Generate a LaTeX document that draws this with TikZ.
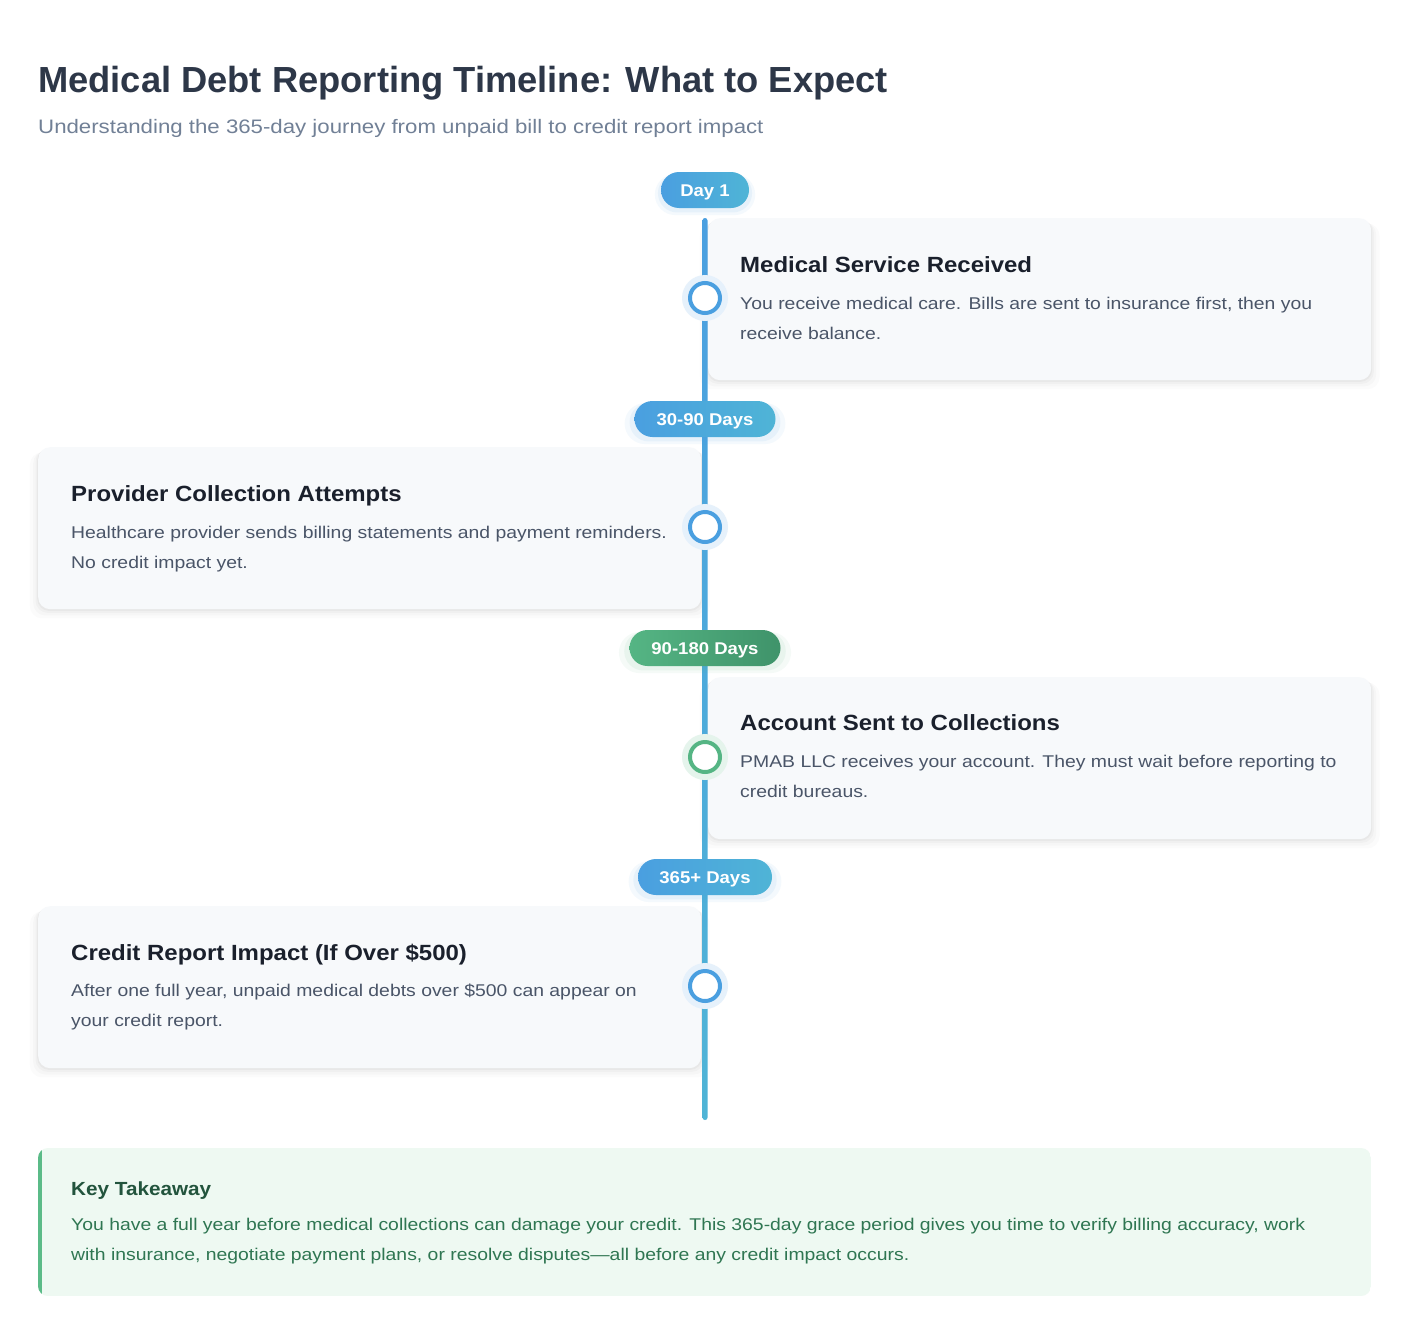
\documentclass[tikz,border=0pt]{standalone}
\usepackage{fontspec}
\setmainfont{Liberation Sans}[FakeStretch=1.14, BoldFeatures={FakeStretch=1.09}]
\newfontfamily\titlefont{Liberation Sans}[FakeStretch=1.0]
\usetikzlibrary{shadows}
\definecolor{titlec}{HTML}{2D3748}
\definecolor{subc}{HTML}{718096}
\definecolor{cardfill}{HTML}{F7F9FB}
\definecolor{cardtitle}{HTML}{1A202C}
\definecolor{bodyc}{HTML}{4A5568}
\definecolor{blueA}{HTML}{4A9FE0}
\definecolor{blueB}{HTML}{4FB4D6}
\definecolor{greenA}{HTML}{55B584}
\definecolor{greenB}{HTML}{3F936A}
\definecolor{halo}{HTML}{E6F1FB}
\definecolor{halog}{HTML}{E5F4EC}
\definecolor{takefill}{HTML}{EEF9F2}
\definecolor{takebar}{HTML}{5BBB88}
\definecolor{taketitle}{HTML}{22543D}
\definecolor{takebody}{HTML}{2F7652}
\tikzset{
  card/.style={fill=cardfill, rounded corners=12pt, anchor=north west,
    minimum width=663pt, minimum height=162pt, inner sep=0pt,
    drop shadow={shadow xshift=0pt, shadow yshift=-7pt, opacity=0.015, fill=black, shadow scale=1.025},
    drop shadow={shadow xshift=0pt, shadow yshift=-5pt, opacity=0.02, fill=black, shadow scale=1.015},
    drop shadow={shadow xshift=0pt, shadow yshift=-3pt, opacity=0.025, fill=black, shadow scale=1.008},
    drop shadow={shadow xshift=0pt, shadow yshift=-1.5pt, opacity=0.03, fill=black, shadow scale=1.003}},
  ctitle/.style={anchor=base west, inner sep=0pt, text=cardtitle, font=\fontsize{22}{26}\selectfont\bfseries},
  cbody/.style={anchor=base west, inner sep=0pt, text=bodyc, font=\fontsize{17}{20}\selectfont},
  badgebase/.style={rounded corners=18pt, minimum height=36pt, inner sep=0pt,
    text=white, font=\fontsize{17}{18}\selectfont\bfseries, text height=12pt, text depth=0pt},
  badgeblue/.style={badgebase, left color=blueA, right color=blueB,
    drop shadow={shadow xshift=0pt, shadow yshift=-4pt, opacity=0.06, fill=blueA, shadow scale=1.14},
    drop shadow={shadow xshift=0pt, shadow yshift=-3pt, opacity=0.08, fill=blueA, shadow scale=1.07}},
  badgegreen/.style={badgebase, left color=greenA, right color=greenB,
    drop shadow={shadow xshift=0pt, shadow yshift=-4pt, opacity=0.06, fill=greenA, shadow scale=1.14},
    drop shadow={shadow xshift=0pt, shadow yshift=-3pt, opacity=0.08, fill=greenA, shadow scale=1.07}},
  dotblue/.style={circle, minimum size=30pt, inner sep=0pt, fill=white, draw=blueA, line width=4pt},
  dotgreen/.style={circle, minimum size=30pt, inner sep=0pt, fill=white, draw=greenA, line width=4pt},
  halob/.style={circle, minimum size=46pt, inner sep=0pt, fill=halo},
  halogr/.style={circle, minimum size=46pt, inner sep=0pt, fill=halog},
}
\begin{document}
\begin{tikzpicture}[x=1pt,y=-1pt]
\useasboundingbox[fill=white] (0,0) rectangle (1404,1338);

% Title
\node[anchor=base west, inner sep=0pt, text=titlec, font=\titlefont\fontsize{36.3}{40}\selectfont\bfseries] (title) at (38,92) {Medical Debt Reporting Timeline: What to Expect};
\node[anchor=base west, inner sep=0pt, text=subc, font=\fontsize{19.5}{22}\selectfont] (subtitle) at (38,133) {Understanding the 365-day journey from unpaid bill to credit report impact};

% Cards
\node[card] (card1) at (708,218) {};
\node[card] (card2) at (38,447) {};
\node[card] (card3) at (708,677) {};
\node[card] (card4) at (38,906) {};

% Timeline line
\coordinate (ltop) at (702.5,218);
\coordinate (lbot) at (707.5,1120);
\shade[top color=blueA, bottom color=blueB, rounded corners=2.5pt] (ltop) rectangle (lbot);

% Badges
\node[badgeblue, minimum width=88pt] (b1) at (705,190) {Day 1};
\node[badgeblue, minimum width=141pt] (b2) at (705,419) {30-90 Days};
\node[badgegreen, minimum width=151pt] (b3) at (705,648) {90-180 Days};
\node[badgeblue, minimum width=134pt] (b4) at (705,877) {365+ Days};

% Dots
\node[halob] (h1) at (705,298) {};
\node[dotblue] (d1) at (705,298) {};
\node[halob] (h2) at (705,527) {};
\node[dotblue] (d2) at (705,527) {};
\node[halogr] (h3) at (705,757) {};
\node[dotgreen] (d3) at (705,757) {};
\node[halob] (h4) at (705,986) {};
\node[dotblue] (d4) at (705,986) {};

% Card texts
\node[ctitle] (t1) at (740,272) {Medical Service Received};
\node[cbody] (t1a) at (740,309) {You receive medical care. Bills are sent to insurance first, then you};
\node[cbody] (t1b) at (740,339) {receive balance.};

\node[ctitle] (t2) at (71,501) {Provider Collection Attempts};
\node[cbody] (t2a) at (71,538) {Healthcare provider sends billing statements and payment reminders.};
\node[cbody] (t2b) at (71,568) {No credit impact yet.};

\node[ctitle] (t3) at (740,730) {Account Sent to Collections};
\node[cbody] (t3a) at (740,767) {PMAB LLC receives your account. They must wait before reporting to};
\node[cbody] (t3b) at (740,797) {credit bureaus.};

\node[ctitle] (t4) at (71,960) {Credit Report Impact (If Over \$500)};
\node[cbody] (t4a) at (71,996) {After one full year, unpaid medical debts over \$500 can appear on};
\node[cbody] (t4b) at (71,1026) {your credit report.};

% Takeaway
\begin{scope}
\clip[rounded corners=10pt] (38,1148) rectangle (1371,1296);
\fill[takefill] (38,1148) rectangle (1371,1296);
\fill[takebar] (38,1148) rectangle (42,1296);
\end{scope}
\node[anchor=base west, inner sep=0pt, text=taketitle, font=\fontsize{19}{22}\selectfont\bfseries] (kt) at (71,1195) {Key Takeaway};
\node[anchor=base west, inner sep=0pt, text=takebody, font=\fontsize{17}{20}\selectfont] (kb1) at (71,1230) {You have a full year before medical collections can damage your credit. This 365-day grace period gives you time to verify billing accuracy, work};
\node[anchor=base west, inner sep=0pt, text=takebody, font=\fontsize{17}{20}\selectfont] (kb2) at (71,1260) {with insurance, negotiate payment plans, or resolve disputes—all before any credit impact occurs.};
\end{tikzpicture}
\end{document}
